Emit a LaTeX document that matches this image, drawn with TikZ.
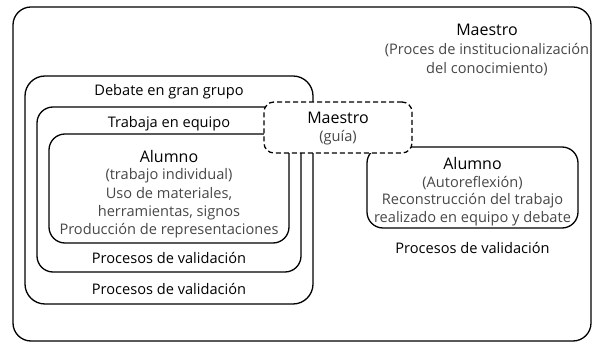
\documentclass[tikz,border=0pt]{standalone}
\usepackage{fontspec}
\setmainfont{Open Sans}
\begin{document}
\begin{tikzpicture}[x=1pt,y=-1pt,
  box/.style={draw=black,line width=1.3pt,inner sep=0pt,outer sep=0pt,rectangle},
  guia/.style={box,dashed,dash pattern=on 5pt off 3pt,fill=white},
  txt/.style={inner sep=0pt,font=\fontsize{14.6}{17}\selectfont,text=black},
  sub/.style={txt,text=black!72},
  ttl/.style={inner sep=0pt,font=\fontsize{16}{18}\selectfont,text=black}]
\useasboundingbox (0,0) rectangle (602,352);
\node[box,rounded corners=18pt,minimum width=578pt,minimum height=334pt] (outer) at (302,174) {};
\node[box,rounded corners=20pt,minimum width=288pt,minimum height=228pt] (debate) at (169,190) {};
\node[box,rounded corners=16pt,minimum width=264pt,minimum height=165pt] (trabaja) at (169,189.5) {};
\node[box,rounded corners=16pt,minimum width=240pt,minimum height=109pt] (alumnoL) at (169,188.5) {};
\node[box,rounded corners=16pt,minimum width=211pt,minimum height=81pt] (alumnoR) at (472.5,187.5) {};
\node[guia,rounded corners=10pt,minimum width=148pt,minimum height=51pt] (guiabox) at (338,127.5) {};
% texts
\node[ttl] (m1) at (487,30) {Maestro};
\node[sub] (m2) at (487,50) {(Proces de institucionalización};
\node[sub] (m3) at (487,69) {del conocimiento)};
\node[txt] (deb) at (169,92) {Debate en gran grupo};
\node[txt] (tra) at (169,124) {Trabaja en equipo};
\node[ttl] (al1) at (169,157) {Alumno};
\node[sub] (al2) at (169,176) {(trabajo individual)};
\node[sub] (al3) at (169,194) {Uso de materiales,};
\node[sub] (al4) at (169,213) {herramientas, signos};
\node[sub] (al5) at (169,231) {Producción de representaciones};
\node[txt] (pv1) at (169,258) {Procesos de validación};
\node[txt] (pv2) at (169,289) {Procesos de validación};
\node[ttl] (g1) at (338,118) {Maestro};
\node[sub] (g2) at (338,138) {(guía)};
\node[ttl] (ar1) at (472.5,164) {Alumno};
\node[sub] (ar2) at (472.5,183) {(Autoreflexión)};
\node[sub] (ar3) at (472.5,201) {Reconstrucción del trabajo};
\node[sub] (ar4) at (472.5,219) {realizado en equipo y debate};
\node[txt] (pv3) at (472.5,248) {Procesos de validación};
\end{tikzpicture}
\end{document}
